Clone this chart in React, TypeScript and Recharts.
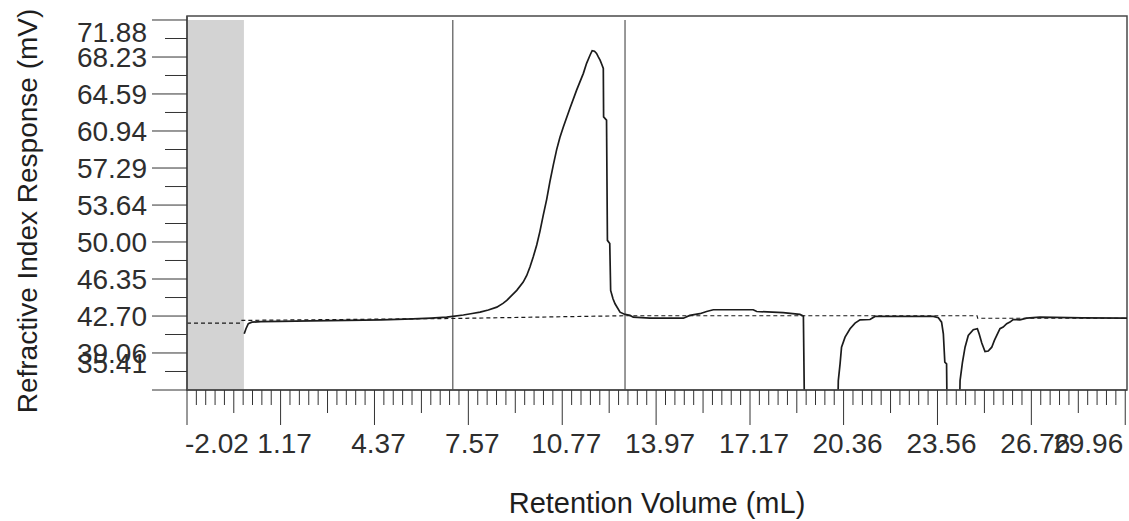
import React from 'react';
import { LineChart, Line, XAxis, YAxis, ReferenceArea, ReferenceLine } from 'recharts';

// ---- data ----
const signalX = [
  -0.07, -0.01, 0.07, 0.19, 0.5, 1.15, 2.2, 3.42, 4.6, 5.68, 6.3, 6.83,
  7.04, 7.4, 7.7, 7.97, 8.25, 8.54, 8.75, 8.88, 8.99, 9.22, 9.44, 9.56, 9.67, 9.78, 9.9,
  10.01, 10.12, 10.24, 10.35, 10.47, 10.58, 10.69, 10.81, 11.03, 11.26, 11.49, 11.6, 11.72,
  11.79, 11.87, 11.94, 12.0, 12.06, 12.12, 12.17, 12.18, 12.28, 12.31, 12.39, 12.42, 12.5,
  12.57, 12.74, 12.91, 13.08, 13.19, 13.76, 14.9, 15.12, 15.46, 15.69, 15.92, 17.28, 17.4,
  18.3, 18.87, 18.99, 19.04, 20.14, 20.18, 20.24, 20.29, 20.41, 20.58, 20.75, 20.92, 21.26,
  21.43, 23.42, 23.59, 23.7, 23.76, 23.81, 23.87, 23.9, 24.29, 24.33, 24.41, 24.5, 24.61,
  24.78, 24.92, 24.98, 25.07, 25.18, 25.29, 25.41, 25.5, 25.69, 25.8, 25.92, 26.03, 26.14,
  26.37, 26.6, 27.05, 28.5, 30.02,
];
const signalY = [
  40.95, 41.45, 41.94, 42.1, 42.14, 42.17, 42.22, 42.27, 42.33, 42.43, 42.5, 42.59,
  42.66, 42.8, 42.95, 43.08, 43.3, 43.58, 43.95, 44.24, 44.56, 45.23, 46.05, 46.7, 47.53, 48.51, 49.7,
  51.05, 52.6, 54.2, 55.95, 57.65, 59.1, 60.3, 61.35, 63.16, 64.97, 66.62, 67.61, 68.43,
  68.85, 68.8, 68.59, 68.25, 67.93, 67.5, 67.11, 62.33, 62.01, 50.16, 49.84, 45.23, 44.4,
  43.91, 43.08, 42.86, 42.76, 42.59, 42.49, 42.49, 42.76, 42.93, 43.15, 43.32, 43.32, 43.15,
  43.03, 42.86, 42.69, 30.0, 30.0, 36.34, 37.99, 39.63, 40.62, 41.45, 42.0, 42.33, 42.36,
  42.66, 42.66, 42.53, 42.1, 40.95, 38.15, 37.99, 30.0, 30.0, 36.34, 38.1, 39.63, 40.78,
  41.35, 41.45, 40.95, 40.04, 39.2, 39.25, 39.63, 40.3, 41.45, 41.61, 41.94, 42.1, 42.36,
  42.33, 42.49, 42.59, 42.52, 42.49,
];
const baselineX = [-2.02, -0.2, -0.15, 7.04, 12.91, 24.91, 24.93, 30.02];
const baselineY = [42.0, 42.0, 42.27, 42.46, 42.73, 42.73, 42.48, 42.48];

const xMajorTicks = [-2.02, 1.17, 4.37, 7.57, 10.77, 13.97, 17.17, 20.36, 23.56, 26.76, 29.96];
const yMajorTicks = [35.41, 39.06, 42.7, 46.35, 50.0, 53.64, 57.29, 60.94, 64.59, 68.23, 71.88];
const markerLines = [7.04, 12.91];
const solventBand = [-2.02, -0.08];
const xDomain = [-2.02, 30.02];
const yDomain = [35.41, 72.274];

const xTitle = 'Retention Volume (mL)';
const yTitle = 'Refractive Index Response (mV)';

// ---- derived structures ----
const signalData = signalX.map((x, i) => ({ x, v: signalY[i] }));
const baselineData = baselineX.map((x, i) => ({ x, b: baselineY[i] }));

const xTickValues: number[] = [];
const xTickKinds: string[] = [];
xMajorTicks.forEach((t, i) => {
  xTickValues.push(t);
  xTickKinds.push('major');
  if (i < xMajorTicks.length - 1) {
    const n = xMajorTicks[i + 1];
    for (let k = 1; k < 10; k++) {
      xTickValues.push(t + ((n - t) * k) / 10);
      xTickKinds.push(k === 5 ? 'mid' : 'minor');
    }
  }
});
const yTickValues: number[] = [];
const yTickKinds: string[] = [];
yMajorTicks.forEach((t, i) => {
  yTickValues.push(t);
  yTickKinds.push('major');
  if (i < yMajorTicks.length - 1) {
    yTickValues.push((t + yMajorTicks[i + 1]) / 2);
    yTickKinds.push('minor');
  }
});

const FONT = '"Liberation Sans", Arial, Helvetica, sans-serif';
const TEXT = '#2e2e2e';
const TICK = '#333';
const FRAME = '#4a4a4a';

const nearestIndex = (arr: number[], v: number) => {
  let best = 0;
  for (let i = 1; i < arr.length; i++) {
    if (Math.abs(arr[i] - v) < Math.abs(arr[best] - v)) best = i;
  }
  return best;
};

const XTick = (props: any) => {
  const { x, y, payload } = props;
  const idx = nearestIndex(xTickValues, payload.value);
  const kind = xTickKinds[idx];
  const len = kind === 'major' ? 35 : kind === 'mid' ? 23 : 15;
  let label = null;
  if (kind === 'major') {
    const mi = nearestIndex(xMajorTicks, payload.value);
    const txt = xMajorTicks[mi].toFixed(2);
    let anchor = 'middle';
    let tx = x + 4;
    if (mi === 0) {
      anchor = 'start';
      tx = x - 2;
    } else if (mi === xMajorTicks.length - 1) {
      anchor = 'end';
      tx = x - 2;
    }
    label = (
      <text x={tx} y={y + 63} textAnchor={anchor} fontSize={28} fontFamily={FONT} fill={TEXT}>
        {txt}
      </text>
    );
  }
  return (
    <g>
      <line x1={x} x2={x} y1={y} y2={y + len} stroke={TICK} strokeWidth={1} />
      {label}
    </g>
  );
};

const YTick = (props: any) => {
  const { x, y, payload } = props;
  const idx = nearestIndex(yTickValues, payload.value);
  const kind = yTickKinds[idx];
  const len = kind === 'major' ? 35 : 22;
  let label = null;
  if (kind === 'major') {
    const mi = nearestIndex(yMajorTicks, payload.value);
    const txt = yMajorTicks[mi].toFixed(2);
    let ty = y + 10;
    if (mi === yMajorTicks.length - 1) ty = y + 22;
    if (mi === 0) ty = y - 17;
    label = (
      <text x={x - 40} y={ty} textAnchor="end" fontSize={28} fontFamily={FONT} fill={TEXT}>
        {txt}
      </text>
    );
  }
  return (
    <g>
      <line x1={x - len} x2={x} y1={y} y2={y} stroke={TICK} strokeWidth={1} />
      {label}
    </g>
  );
};

const XTitle = (props: any) => {
  const vb = props.viewBox || {};
  const cx = vb.x + vb.width / 2;
  return (
    <text x={cx} y={513} textAnchor="middle" fontSize={29} fontFamily={FONT} fill="#1e1e1e">
      {xTitle}
    </text>
  );
};

const YTitle = () => (
  <text
    x={37}
    y={211}
    transform="rotate(-90, 37, 211)"
    textAnchor="middle"
    fontSize={28}
    fontFamily={FONT}
    fill="#1e1e1e"
  >
    {yTitle}
  </text>
);

export default function App() {
  return (
    <div style={{ position: 'absolute', left: 0, top: 0, width: 1129, height: 521, background: '#fff' }}>
      <LineChart width={1129} height={521} margin={{ top: 16, right: 2, bottom: 0, left: 0 }}>
        <XAxis
          xAxisId="main"
          dataKey="x"
          type="number"
          domain={xDomain}
          ticks={xTickValues}
          interval={0}
          tick={<XTick />}
          tickLine={false}
          tickSize={0}
          tickMargin={0}
          height={131}
          axisLine={{ stroke: FRAME, strokeWidth: 1.5 }}
          allowDataOverflow
          label={<XTitle />}
        />
        <YAxis
          yAxisId="main"
          type="number"
          domain={yDomain}
          ticks={yTickValues}
          interval={0}
          tick={<YTick />}
          tickLine={false}
          tickSize={0}
          tickMargin={0}
          width={187}
          axisLine={{ stroke: FRAME, strokeWidth: 1.5 }}
          allowDataOverflow
          label={<YTitle />}
        />
        <ReferenceArea
          xAxisId="main"
          yAxisId="main"
          x1={solventBand[0]}
          x2={solventBand[1]}
          y1={yMajorTicks[0]}
          y2={yMajorTicks[yMajorTicks.length - 1]}
          fill="#d3d3d3"
          fillOpacity={1}
          stroke="none"
        />
        <ReferenceArea
          xAxisId="main"
          yAxisId="main"
          x1={xDomain[0]}
          x2={xDomain[1]}
          y1={yDomain[0]}
          y2={yDomain[1]}
          fill="none"
          fillOpacity={0}
          stroke={FRAME}
          strokeWidth={1.5}
          ifOverflow="visible"
        />
        {markerLines.map((m) => (
          <ReferenceLine
            key={m}
            xAxisId="main"
            yAxisId="main"
            segment={[
              { x: m, y: yMajorTicks[0] },
              { x: m, y: yMajorTicks[yMajorTicks.length - 1] },
            ]}
            stroke="#555"
            strokeWidth={1.2}
          />
        ))}
        <Line
          xAxisId="main"
          yAxisId="main"
          data={baselineData}
          dataKey="b"
          type="linear"
          stroke="#1a1a1a"
          strokeWidth={1.2}
          strokeDasharray="4 3"
          dot={false}
          activeDot={false}
          isAnimationActive={false}
        />
        <Line
          xAxisId="main"
          yAxisId="main"
          data={signalData}
          dataKey="v"
          type="linear"
          stroke="#1c1c1c"
          strokeWidth={1.7}
          dot={false}
          activeDot={false}
          isAnimationActive={false}
        />
      </LineChart>
    </div>
  );
}
